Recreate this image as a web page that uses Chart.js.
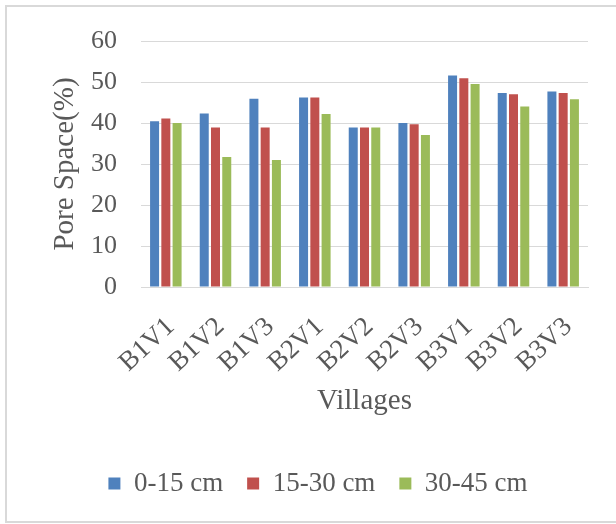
<!DOCTYPE html>
<html>
<head>
<meta charset="utf-8">
<script src="https://cdn.jsdelivr.net/npm/chart.js@4/dist/chart.umd.min.js"></script>
<style>
  html, body { margin: 0; padding: 0; background: #ffffff; }
  #wrap { position: relative; width: 616px; height: 524px; }
</style>
</head>
<body>
<div id="wrap"><canvas id="chart" width="616" height="524"></canvas></div>
<script>
// Pore space (%) by village for three soil depths
const villages = ['B1V1', 'B1V2', 'B1V3', 'B2V1', 'B2V2', 'B2V3', 'B3V1', 'B3V2', 'B3V3'];
const depth0to15 = [40.4, 42.3, 45.9, 46.2, 38.9, 40.0, 51.6, 47.3, 47.7];
const depth15to30 = [41.1, 38.9, 38.9, 46.2, 38.9, 39.7, 50.9, 47.0, 47.3];
const depth30to45 = [40.0, 31.7, 31.0, 42.2, 38.9, 37.1, 49.5, 44.0, 45.8];
const seriesNames = ['0-15 cm', '15-30 cm', '30-45 cm'];

const textColor = '#595959';
const gridColor = '#d9d9d9';
const serif = '"Liberation Serif", "Times New Roman", serif';

// Light frame around the chart
const framePlugin = {
  id: 'frame',
  beforeDraw(chart) {
    const ctx = chart.ctx;
    ctx.save();
    ctx.strokeStyle = '#d9d9d9';
    ctx.lineWidth = 2;
    ctx.strokeRect(6, 6, 700, 516);
    ctx.restore();
  }
};

new Chart(document.getElementById('chart'), {
  type: 'bar',
  data: {
    labels: villages,
    datasets: [
      { label: seriesNames[0], data: depth0to15, backgroundColor: '#4f81bd' },
      { label: seriesNames[1], data: depth15to30, backgroundColor: '#c0504d' },
      { label: seriesNames[2], data: depth30to45, backgroundColor: '#9bbb59' }
    ]
  },
  options: {
    responsive: false,
    animation: false,
    devicePixelRatio: 1,
    datasets: { bar: { categoryPercentage: 0.68, barPercentage: 0.8 } },
    layout: { padding: { left: 48, right: 28, top: 41, bottom: 17 } },
    plugins: {
      legend: {
        position: 'bottom',
        labels: {
          color: textColor,
          font: { family: serif, size: 27 },
          boxWidth: 12,
          boxHeight: 12,
          padding: 24
        }
      },
      tooltip: { enabled: false }
    },
    scales: {
      x: {
        grid: { display: false, drawTicks: false },
        border: { display: true, color: gridColor, width: 1 },
        ticks: {
          color: textColor,
          font: { family: serif, size: 27 },
          autoSkip: false,
          maxRotation: 43,
          minRotation: 43,
          labelOffset: 5,
          padding: 24
        },
        title: {
          display: true,
          text: 'Villages',
          color: textColor,
          font: { family: serif, size: 29 },
          padding: { top: 0, bottom: 27 }
        },
        afterFit(scale) { scale.height = 159; }
      },
      y: {
        min: 0,
        max: 60,
        grid: { color: gridColor, drawTicks: false },
        border: { display: false },
        ticks: {
          stepSize: 10,
          color: textColor,
          font: { family: serif, size: 26 },
          padding: 24
        },
        title: {
          display: true,
          text: 'Pore Space(%)',
          color: textColor,
          font: { family: serif, size: 29 },
          padding: { top: 0, bottom: 0 }
        },
        afterFit(scale) { scale.width = 93; }
      }
    }
  },
  plugins: [framePlugin]
});
</script>
</body>
</html>
